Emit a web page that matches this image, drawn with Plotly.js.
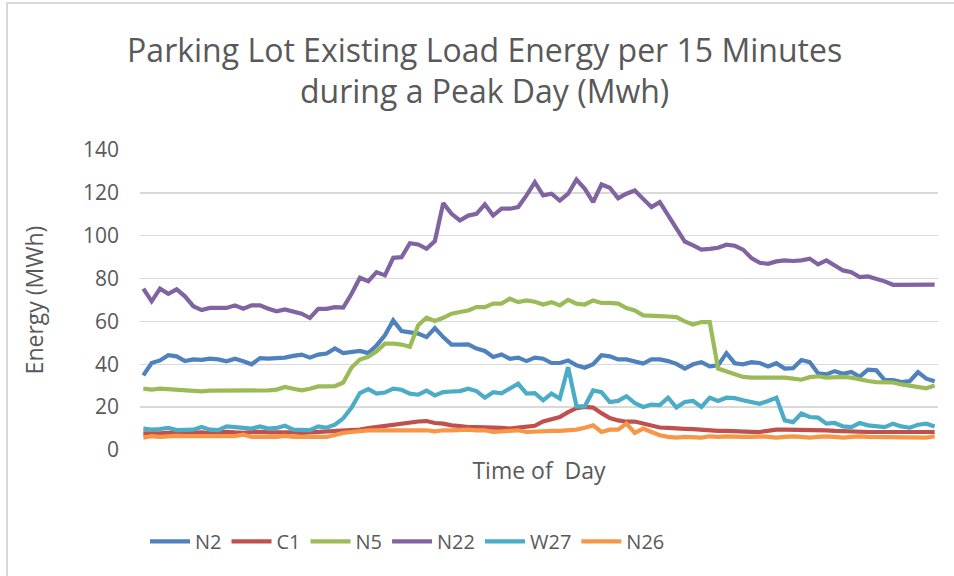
<!DOCTYPE html>
<html>
<head>
<meta charset="utf-8">
<script src="https://cdn.plot.ly/plotly-3.0.1.min.js"></script>
<style>
  html, body { margin: 0; padding: 0; background: #ffffff; }
  #wrap { position: relative; width: 954px; height: 576px; overflow: hidden; }
  #chart { position: absolute; left: 0; top: 0; width: 954px; height: 576px; }
  #frame { position: absolute; left: 6px; top: 2px; width: 960px; height: 600px;
           border-left: 2px solid #d9d9d9; border-top: 2px solid #d9d9d9; pointer-events: none; }
</style>
</head>
<body>
<div id="wrap">
  <div id="chart"></div>
  <div id="frame"></div>
</div>
<script>
// 96 quarter-hour intervals of the day (category labels, axis labels hidden as in the original)
const times = [];
for (let h = 0; h < 24; h++) {
  for (let m = 0; m < 60; m += 15) {
    times.push(String(h).padStart(2, '0') + ':' + String(m).padStart(2, '0'));
  }
}

const seriesNames = ['N2', 'C1', 'N5', 'N22', 'W27', 'N26'];
const seriesColors = ['#4F81BD', '#C0504D', '#9BBB59', '#8064A2', '#4BACC6', '#F79646'];

const N2 = [34.8, 40.6, 41.8, 44.2, 43.7, 41.5, 42.3, 42.1, 42.6, 42.3,
            41.4, 42.6, 41.4, 40.0, 42.9, 42.6, 42.9, 43.1, 43.9, 44.5,
            43.1, 44.5, 45.0, 47.4, 45.2, 45.7, 46.2, 45.2, 48.8, 53.5,
            60.5, 55.5, 55.0, 54.3, 52.7, 56.9, 52.7, 49.2, 49.2, 49.3,
            47.3, 46.2, 43.4, 44.6, 42.6, 43.1, 41.5, 43.1, 42.6, 40.6,
            40.6, 41.8, 39.5, 38.4, 40.0, 44.2, 43.7, 42.3, 42.3, 41.4,
            40.3, 42.3, 42.3, 41.5, 40.2, 38.0, 40.0, 41.0, 39.0, 39.5,
            45.2, 40.5, 40.0, 41.0, 40.6, 39.0, 40.5, 38.0, 38.2, 42.0,
            41.0, 35.8, 35.3, 36.8, 35.6, 36.4, 34.2, 37.5, 37.2, 32.6,
            32.6, 31.7, 32.1, 36.3, 33.3, 32.1];

const C1 = [7.8, 7.6, 7.8, 8.0, 7.8, 7.8, 8.0, 8.2, 7.8, 8.0,
            8.5, 8.2, 8.0, 8.3, 8.5, 8.2, 8.3, 8.5, 8.2, 8.0,
            8.2, 8.5, 8.3, 8.5, 8.8, 9.0, 9.5, 10.2, 10.7, 11.2,
            12.0, 12.5, 13.1, 13.3, 13.5, 12.6, 12.3, 11.5, 11.2, 10.7,
            10.7, 10.4, 10.4, 10.3, 10.0, 10.4, 11.0, 11.3, 13.3, 14.2,
            15.4, 17.7, 19.5, 20.1, 19.8, 17.2, 14.9, 13.8, 13.2, 13.3,
            12.4, 11.1, 10.5, 10.3, 10.3, 9.9, 9.7, 9.4, 9.0, 8.9,
            8.9, 8.9, 8.7, 8.5, 8.4, 9.2, 9.5, 9.5, 9.5, 9.5,
            9.5, 9.5, 9.2, 8.9, 8.7, 8.5, 8.4, 8.4, 8.4, 8.4,
            8.4, 8.4, 8.4, 8.4, 8.4, 8.4];

const N5 = [28.6, 28.2, 28.6, 28.3, 28.2, 27.8, 27.6, 27.4, 27.7, 27.7,
            27.7, 27.8, 27.8, 28.0, 27.8, 27.8, 28.2, 29.4, 28.6, 27.8,
            28.6, 29.7, 29.7, 29.8, 31.5, 38.5, 42.2, 43.5, 46.0, 49.6,
            49.6, 49.2, 48.2, 58.2, 61.7, 60.2, 61.7, 63.6, 64.4, 65.1,
            66.7, 66.7, 68.3, 68.3, 70.6, 69.0, 69.8, 69.2, 67.9, 69.0,
            67.5, 70.1, 68.3, 67.9, 69.8, 68.6, 68.7, 68.3, 66.2, 65.1,
            62.8, 62.8, 62.5, 62.3, 62.0, 60.0, 58.6, 59.7, 59.7, 38.0,
            36.6, 35.2, 34.1, 33.8, 33.8, 33.9, 34.1, 33.8, 33.3, 32.8,
            34.0, 34.4, 33.8, 34.1, 34.1, 33.8, 32.8, 32.2, 31.7, 31.7,
            31.5, 30.6, 30.1, 29.4, 28.8, 30.1];

const N22 = [75.3, 69.4, 75.3, 72.9, 75.0, 71.7, 67.1, 65.3, 66.3, 66.3,
             66.3, 67.5, 65.9, 67.5, 67.5, 65.9, 64.7, 65.6, 64.4, 63.6,
             61.6, 65.9, 65.9, 66.7, 66.5, 72.9, 80.4, 78.8, 83.0, 81.5,
             89.7, 90.0, 96.5, 95.9, 93.9, 97.5, 115.2, 110.2, 107.1, 109.4,
             110.2, 114.6, 109.4, 112.6, 112.6, 113.4, 118.8, 125.0, 118.8, 119.6,
             116.4, 119.6, 126.2, 121.9, 115.7, 123.9, 122.4, 117.5, 119.6, 121.1,
             117.2, 113.4, 115.7, 109.4, 103.3, 97.3, 95.5, 93.5, 93.9, 94.4,
             95.8, 95.3, 93.5, 89.6, 87.4, 86.9, 88.0, 88.5, 88.2, 88.5,
             89.3, 86.6, 88.5, 86.1, 83.8, 83.0, 80.7, 81.0, 79.9, 78.7,
             77.1, 77.1, 76.8, 76.8, 77.2, 77.2];

const W27 = [10.0, 9.5, 9.8, 10.3, 9.3, 9.5, 9.5, 10.7, 9.5, 9.3,
             11.0, 10.7, 10.4, 10.0, 11.0, 10.0, 10.3, 11.3, 9.5, 9.5,
             9.3, 11.0, 10.4, 11.8, 14.8, 19.8, 26.6, 28.4, 26.3, 26.8,
             28.6, 28.1, 26.3, 25.8, 27.7, 25.5, 27.0, 27.3, 27.5, 28.6,
             27.5, 24.4, 27.0, 26.5, 28.6, 30.9, 26.3, 26.5, 23.2, 26.3,
             24.0, 38.7, 20.4, 20.4, 27.8, 27.0, 22.4, 22.9, 25.1, 21.9,
             20.1, 21.2, 21.0, 24.4, 19.8, 22.4, 22.9, 20.1, 24.4, 22.9,
             24.4, 24.2, 23.2, 22.4, 21.6, 22.9, 24.4, 13.8, 13.0, 17.0,
             15.4, 15.1, 12.3, 12.6, 11.0, 10.7, 12.6, 11.5, 11.0, 10.7,
             12.3, 11.0, 10.4, 11.8, 12.3, 11.0];

const N26 = [5.8, 6.5, 6.1, 6.5, 6.6, 6.5, 6.5, 6.6, 6.6, 6.8,
             6.6, 6.5, 7.2, 6.1, 6.1, 6.1, 6.1, 6.6, 6.1, 6.1,
             6.1, 6.1, 6.1, 7.0, 8.0, 8.4, 8.9, 9.2, 9.2, 9.2,
             9.2, 8.9, 8.9, 9.2, 9.2, 8.7, 9.2, 9.2, 9.5, 9.5,
             9.2, 9.2, 8.4, 8.7, 8.7, 9.2, 8.4, 8.7, 8.9, 8.9,
             8.9, 9.2, 9.5, 10.4, 11.5, 8.4, 9.5, 9.5, 12.3, 8.0,
             10.0, 8.4, 6.9, 6.1, 5.8, 6.1, 6.1, 5.8, 6.4, 6.1,
             6.4, 6.1, 6.1, 6.1, 6.4, 6.1, 5.8, 6.1, 6.4, 6.1,
             5.8, 6.1, 6.4, 6.1, 5.8, 6.1, 6.4, 6.1, 6.1, 6.1,
             5.8, 6.1, 6.1, 6.1, 5.8, 6.4];

const yTicks = [0, 20, 40, 60, 80, 100, 120, 140];

const allSeries = [N2, C1, N5, N22, W27, N26];
const textColor = '#595959';
const fontFam = '"Open Sans", "Noto Sans", sans-serif';

const traces = allSeries.map((vals, k) => ({
  type: 'scatter',
  mode: 'lines',
  name: seriesNames[k],
  x: times,
  y: vals,
  line: { color: seriesColors[k], width: 4.2 },
  hoverinfo: 'x+y+name'
}));

const layout = {
  width: 954,
  height: 576,
  paper_bgcolor: 'rgba(0,0,0,0)',
  plot_bgcolor: 'rgba(0,0,0,0)',
  margin: { l: 140, r: 16, t: 150, b: 126, pad: 0 },
  font: { family: fontFam, color: textColor, size: 20 },
  title: {
    text: 'Parking Lot Existing Load Energy per 15 Minutes<br>during a Peak Day (Mwh)',
    font: { family: fontFam, size: 32, color: textColor },
    xref: 'container', x: 0.508, xanchor: 'center',
    yref: 'container', y: 0.893, yanchor: 'top'
  },
  xaxis: {
    type: 'category',
    range: [-0.4, 95.4],
    showticklabels: false,
    ticks: '',
    showgrid: false,
    zeroline: false,
    showline: false,
    fixedrange: true,
    title: {
      text: 'Time of\u00a0 Day',
      font: { family: fontFam, size: 23, color: textColor },
      standoff: 12
    }
  },
  yaxis: {
    range: [0, 140],
    tickvals: yTicks,
    ticktext: yTicks.map(String),
    ticks: '',
    ticklabelstandoff: 20,
    tickfont: { family: fontFam, size: 21, color: textColor },
    showgrid: true,
    gridcolor: '#d9d9d9',
    gridwidth: 1.3,
    zeroline: false,
    showline: false,
    fixedrange: true,
    title: {
      text: 'Energy (MWh)',
      font: { family: fontFam, size: 23, color: textColor },
      standoff: 32
    }
  },
  showlegend: true,
  legend: {
    orientation: 'h',
    xref: 'container', x: 0.152, xanchor: 'left',
    yref: 'container', y: 0.06, yanchor: 'middle',
    font: { family: fontFam, size: 20, color: textColor },
    itemwidth: 40,
    traceorder: 'normal',
    bgcolor: 'rgba(0,0,0,0)'
  }
};

Plotly.newPlot('chart', traces, layout, { staticPlot: true, displayModeBar: false });
</script>
</body>
</html>
